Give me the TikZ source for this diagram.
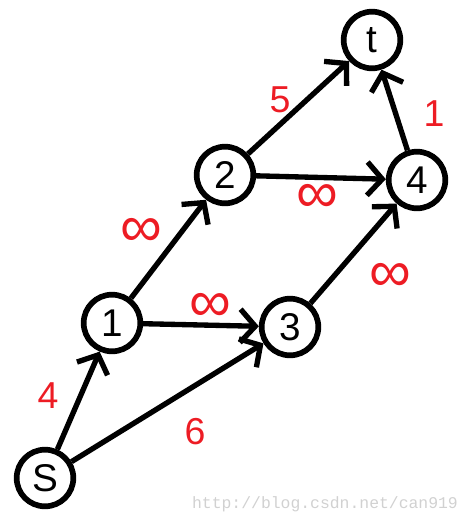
\documentclass[tikz,border=0pt]{standalone}
\usepackage{fontspec}
\setmainfont{Liberation Sans}
\newfontfamily\markfont{Liberation Mono}
\usepackage{xcolor}
\usepackage{tikz}
\usetikzlibrary{arrows.meta}
\definecolor{paintred}{RGB}{237,28,36}

\begin{document}
\begin{tikzpicture}[x=0.03cm, y=-0.03cm,
    vertex/.style={circle,draw,line width=0.17cm,minimum size=1.7cm,inner sep=0pt,font=\fontsize{33}{36}\selectfont},
    flow/.style={line width=0.16cm,-{Straight Barb[length=0.45cm,width=1cm]}},
    weight/.style={text=paintred,inner sep=0pt,font=\fontsize{32}{36}\selectfont},
    infty/.style={weight,font=\fontsize{50}{50}\selectfont}]
    \useasboundingbox (0,0) rectangle (471,524);

    \node[vertex] (s) at (45,478) {S};
    \node[vertex] (n1) at (112,323) {1};
    \node[vertex] (n2) at (225,175) {2};
    \node[vertex] (n3) at (290,327) {3};
    \node[vertex] (n4) at (417,180) {4};
    \node[vertex] (t) at (372,40) {t};

    % Edges of the network
    \draw[flow] (s) -- (n1);
    \draw[flow] (s) -- (n3);
    \draw[flow] (n1) -- (n2);
    \draw[flow] (n1) -- (n3);
    \draw[flow] (n2) -- (t);
    \draw[flow] (n2) -- (n4);
    \draw[flow] (n3) -- (n4);
    \draw[flow] (n4) -- (t);

    % Capacities
    \node[weight] (w1) at (48,396) {4};
    \node[weight] (w2) at (195,432) {6};
    \node[infty] (w3) at (141,232) {∞};
    \node[infty] (w4) at (210,307) {∞};
    \node[weight] (w5) at (280,100) {5};
    \node[infty] (w6) at (317,198) {∞};
    \node[infty] (w7) at (390,277) {∞};
    \node[weight] (w8) at (434,114) {1};

    \node[text=black!18,font=\markfont\fontsize{14}{16}\selectfont] (mark) at (325,504) {http://blog.csdn.net/can919};
\end{tikzpicture}
\end{document}
